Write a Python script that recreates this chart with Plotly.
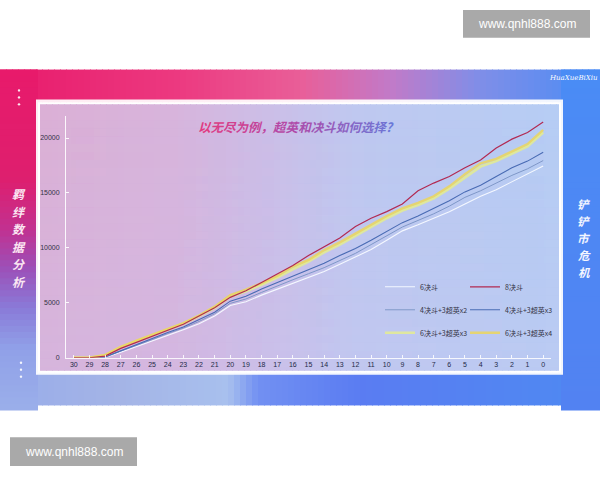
import plotly.graph_objects as go

# ---------------- data ----------------
days = ["30", "29", "28", "27", "26", "25", "24", "23", "22", "21", "20",
        "19", "18", "17", "16", "15", "14", "13", "12", "11", "10",
        "9", "8", "7", "6", "5", "4", "3", "2", "1", "0"]

duel6 = [0, 0, 30, 500, 1000, 1500, 2050, 2550, 3100, 3800, 4750,
         5100, 5700, 6250, 6800, 7300, 7850, 8500, 9150, 9850, 10700,
         11550, 12100, 12700, 13300, 14000, 14700, 15300, 16000, 16700, 17450]
duel8 = [0, 0, 150, 850, 1400, 1950, 2500, 3050, 3800, 4550, 5500,
         6100, 6850, 7600, 8400, 9300, 10100, 10900, 11950, 12700, 13300,
         14000, 15200, 15900, 16500, 17300, 18000, 19100, 19900, 20500, 21450]
duel4_hero3x2 = [0, 0, 50, 600, 1100, 1650, 2200, 2700, 3300, 4000, 4950,
                 5350, 5950, 6550, 7100, 7650, 8200, 8850, 9500, 10300, 11100,
                 11900, 12500, 13100, 13800, 14600, 15200, 15900, 16600, 17200, 17950]
duel4_hero3x3 = [0, 0, 80, 650, 1200, 1750, 2300, 2800, 3450, 4150, 5150,
                 5600, 6250, 6850, 7450, 8050, 8600, 9300, 9950, 10700, 11500,
                 12300, 12900, 13600, 14300, 15100, 15700, 16500, 17300, 17900, 18700]
duel6_hero3x3 = [0, 0, 220, 950, 1500, 2050, 2600, 3100, 3800, 4550, 5550,
                 6050, 6650, 7300, 8050, 8750, 9600, 10300, 11100, 11900, 12700,
                 13400, 13900, 14500, 15400, 16400, 17400, 17900, 18600, 19250, 20500]
duel6_hero3x4 = [0, 0, 250, 1000, 1550, 2100, 2650, 3150, 3850, 4650, 5700,
                 6200, 6800, 7450, 8300, 8900, 9800, 10500, 11300, 12100, 12900,
                 13600, 14100, 14700, 15600, 16700, 17700, 18100, 18800, 19450, 20750]

y_ticks = [0, 5000, 10000, 15000, 20000]
title_text = "以无尽为例，超英和决斗如何选择?"
left_text = "羁绊数据分析"
right_text = "铲铲市危机"
brand_text = "HuaXueBiXiu"
watermark = "www.qnhl888.com"

W, H = 600, 480
CJK = "Noto Sans CJK SC"


def px(x):
    return x / W


def py(y):
    return 1 - y / H


def hex2rgb(h):
    h = h.lstrip("#")
    return tuple(int(h[i:i + 2], 16) for i in (0, 2, 4))


def grad(stops, t):
    for i in range(len(stops) - 1):
        t0, c0 = stops[i]
        t1, c1 = stops[i + 1]
        if t <= t1 or i == len(stops) - 2:
            f = 0 if t1 == t0 else max(0.0, min(1.0, (t - t0) / (t1 - t0)))
            a, b = hex2rgb(c0), hex2rgb(c1)
            return "rgb(%d,%d,%d)" % tuple(round(a[k] + (b[k] - a[k]) * f) for k in range(3))
    return stops[-1][1]


shapes = []


def rect(x0, y0, x1, y1, color, opacity=1.0):
    shapes.append(dict(type="rect", xref="paper", yref="paper",
                       x0=px(x0), x1=px(x1), y0=py(y1), y1=py(y0),
                       fillcolor=color, opacity=opacity, line=dict(width=0),
                       layer="below"))


# banner top strip
top_stops = [(0, "#e81a6b"), (0.3, "#ec3a80"), (0.5, "#e95e98"), (0.65, "#c27ac8"),
             (0.8, "#7f8ee8"), (1, "#4b8cf5")]
for i in range(0, 600, 6):
    rect(i, 70, i + 7, 103, grad(top_stops, (i + 3) / 600))
# banner bottom strip
bot_stops = [(0, "#98acea"), (0.2, "#a4b4e6"), (0.38, "#a8c0ee"), (0.43, "#7290f2"),
             (0.6, "#5a7cf2"), (1, "#4e8af2")]
for i in range(0, 600, 6):
    rect(i, 375, i + 7, 408, grad(bot_stops, (i + 3) / 600))
# banner left strip
left_stops = [(70, "#e81a6b"), (180, "#de1f6e"), (230, "#c23090"), (270, "#9c50b8"),
              (310, "#8a7ad8"), (350, "#90a0e8"), (408, "#9aaeea")]
for j in range(70, 408, 6):
    rect(0, j, 38, j + 7, grad(left_stops, j + 3))
# banner right strip
right_stops = [(70, "#4a8cf5"), (408, "#5282f2")]
for j in range(70, 408, 6):
    rect(561, j, 600, j + 7, grad(right_stops, j + 3))

# panel border and interior
rect(36, 100, 563, 377, "rgba(255,255,255,0.92)")
panel_stops = [(0, "#dbb0d6"), (0.25, "#d8b4dc"), (0.45, "#cbbfe8"), (0.6, "#bfc8f0"),
               (1, "#b6cdf4")]
for i in range(40, 559, 6):
    rect(i, 105, min(i + 7, 559), 373, grad(panel_stops, (i - 40) / 519))
# slight vertical tint (pinker top, bluer bottom)
for j in range(105, 373, 8):
    t = (j - 105) / 268
    rect(40, j, 559, min(j + 8, 373), "rgba(200,196,240,1)", opacity=0.25 * t)

# watermark boxes
rect(463, 10, 590, 38, "#a9a9a9")
rect(10, 440, 137, 469, "#a9a9a9")

# dots
for (cx, cy) in [(19, 91), (19, 98), (19, 105), (21, 365), (21, 372), (21, 379)]:
    shapes.append(dict(type="circle", xref="paper", yref="paper",
                       x0=px(cx - 1.2), x1=px(cx + 1.2), y0=py(cy + 1.2), y1=py(cy - 1.2),
                       fillcolor="rgba(255,255,255,0.9)", line=dict(width=0)))

# ---------------- traces ----------------
series = [
    ("6决斗", duel6, "#f4f8ff", 1.1, 1.0, "legend", 1),
    ("4决斗+3超英x2", duel4_hero3x2, "#7f98c8", 1.0, 1.0, "legend", 2),
    ("4决斗+3超英x3", duel4_hero3x3, "#4a6cb4", 1.1, 1.0, "legend2", 2),
    ("6决斗+3超英x3", duel6_hero3x3, "#e2ea96", 2.6, 0.9, "legend", 3),
    ("6决斗+3超英x4", duel6_hero3x4, "#ecd65c", 2.4, 0.85, "legend2", 3),
    ("8决斗", duel8, "#b22a52", 1.2, 1.0, "legend2", 1),
]

fig = go.Figure()
for name, vals, color, width, op, lg, rank in series:
    fig.add_trace(go.Scatter(
        x=days, y=vals, name=name, mode="lines",
        line=dict(color=color, width=width), opacity=op,
        legend=lg, legendgroup=name, legendrank=rank,
        hoverinfo="skip"))

# ---------------- annotations ----------------
annotations = []
n = len(title_text)
spans = "".join(
    '<span style="color:%s">%s</span>' % (grad([(0, "#e03c82"), (0.45, "#b24aa8"), (1, "#6a78d8")], k / (n - 1)), ch)
    for k, ch in enumerate(title_text))
annotations.append(dict(xref="paper", yref="paper", x=px(296), y=py(127),
                        text="<b><i>%s</i></b>" % spans, showarrow=False,
                        font=dict(family=CJK, size=12.5), xanchor="center", yanchor="middle"))
for k, ch in enumerate(left_text):
    annotations.append(dict(xref="paper", yref="paper", x=px(19), y=py(195 + 17.6 * k),
                            text="<b><i>%s</i></b>" % ch, showarrow=False,
                            font=dict(family=CJK, size=12, color="#fbe6f2"),
                            xanchor="center", yanchor="middle"))
for k, ch in enumerate(right_text):
    annotations.append(dict(xref="paper", yref="paper", x=px(584), y=py(205 + 17.2 * k),
                            text="<b><i>%s</i></b>" % ch, showarrow=False,
                            font=dict(family=CJK, size=11.5, color="#f4f6ff"),
                            xanchor="center", yanchor="middle"))
annotations.append(dict(xref="paper", yref="paper", x=px(573), y=py(78),
                        text="<i>%s</i>" % brand_text, showarrow=False,
                        font=dict(family="DejaVu Serif", size=7, color="#ffffff"),
                        xanchor="center", yanchor="middle"))
annotations.append(dict(xref="paper", yref="paper", x=px(526.5), y=py(24),
                        text=watermark, showarrow=False,
                        font=dict(family="Liberation Sans", size=12, color="#ffffff"),
                        xanchor="center", yanchor="middle"))
annotations.append(dict(xref="paper", yref="paper", x=px(73.5), y=py(454.5),
                        text=watermark, showarrow=False,
                        font=dict(family="Liberation Sans", size=12, color="#ffffff"),
                        xanchor="center", yanchor="middle"))

legend_common = dict(bgcolor="rgba(0,0,0,0)", borderwidth=0,
                     font=dict(family=CJK, size=7, color="#333344"),
                     orientation="v", tracegroupgap=4,
                     xanchor="left", yanchor="top")

fig.update_layout(
    width=W, height=H,
    margin=dict(l=0, r=0, t=0, b=0),
    paper_bgcolor="#ffffff", plot_bgcolor="rgba(0,0,0,0)",
    showlegend=True,
    legend=dict(x=px(380), y=py(274), **legend_common),
    legend2=dict(x=px(465), y=py(274), **legend_common),
    shapes=shapes, annotations=annotations,
    xaxis=dict(domain=[px(66), px(551)], type="category", range=[-0.5, 30.5],
               showline=True, linecolor="rgba(255,255,255,0.85)", linewidth=1,
               ticks="inside", ticklen=3, tickcolor="rgba(255,255,255,0.85)",
               showgrid=False, zeroline=False,
               tickfont=dict(family="Liberation Sans", size=7, color="#1e2a48"),
               tickangle=0),
    yaxis=dict(domain=[py(360), py(116.8)], range=[0, 22000], tickvals=y_ticks,
               tickformat="d",
               showline=True, linecolor="rgba(255,255,255,0.9)", linewidth=1,
               ticks="inside", ticklen=3, tickcolor="rgba(255,255,255,0.9)",
               showgrid=False, zeroline=False, ticklabelstandoff=4,
               tickfont=dict(family="Liberation Sans", size=7, color="#333344")),
    hovermode=False,
)

fig.write_html("out.html", config={"displayModeBar": False},
               post_script="document.body.style.margin='0px';document.body.style.padding='0px';")
